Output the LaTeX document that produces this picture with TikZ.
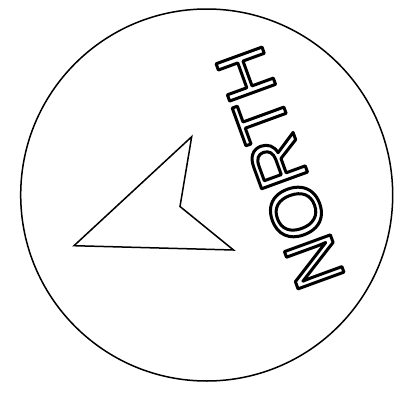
\documentclass[tikz,border=0pt]{standalone}
\usepackage{fontspec}
\setmainfont{Liberation Sans}
\newcommand{\outlinetext}[1]{\special{pdf:literal direct 1 Tr 3 w 1 j}#1\special{pdf:literal direct 0 Tr}}
\tikzset{
  ring/.style={draw=black, line width=1.5pt},
  pointer/.style={draw=black, line width=1.5pt, line join=miter},
  label/.style={inner sep=0pt, font=\fontsize{71}{80}\selectfont}
}
\begin{document}
\begin{tikzpicture}[x=1pt,y=-1pt]
\useasboundingbox (0,0) rectangle (395,399);
\node[ring, circle, minimum size=372pt, inner sep=0pt] (dial) at (206.7,195) {};
\coordinate (tipL) at (74,245.7);
\coordinate (tipT) at (191.7,136.7);
\coordinate (notch) at (180,206.5);
\coordinate (tipR) at (233.5,250);
\draw[pointer] (tipL) -- (tipT) -- (notch) -- (tipR) -- cycle;
\node[label, rotate=110] (north) at (280,168) {\outlinetext{NORTH}};
\end{tikzpicture}
\end{document}
